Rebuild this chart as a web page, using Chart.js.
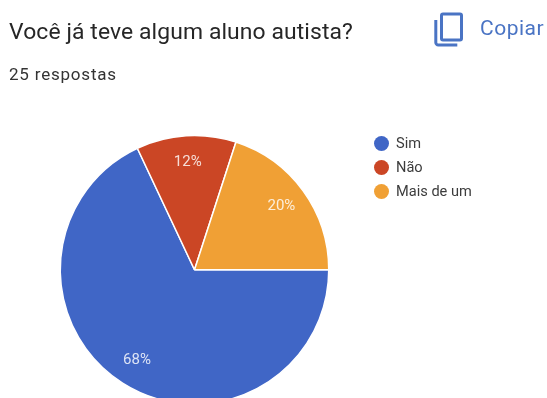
<!DOCTYPE html>
<html lang="pt">
<head>
<meta charset="utf-8">
<title>Você já teve algum aluno autista?</title>
<script src="https://cdn.jsdelivr.net/npm/chart.js@4"></script>
<style>
    html, body { margin: 0; width: 547px; height: 398px; overflow: hidden; background: #fff; font-family: Roboto, sans-serif; }
    #chartBox { position: absolute; left: 0; top: 0; width: 547px; height: 405px; }
    .title { position: absolute; left: 9px; top: 18px; font-size: 22.9px; line-height: 28px; color: #262626; white-space: nowrap; letter-spacing: 0.1px; }
    .count { position: absolute; left: 9px; top: 64px; font-size: 17px; line-height: 20px; color: #333; white-space: nowrap; letter-spacing: 0.8px; }
    .copy { position: absolute; left: 480px; top: 15px; font-size: 21px; line-height: 26px; color: #4a74c4; white-space: nowrap; letter-spacing: 0.5px; }
    .copy-icon { position: absolute; left: 434px; top: 12px; }
    #legend { position: absolute; left: 374px; top: 131px; font-size: 14.6px; color: #3c3c3c; }
    #legend div { white-space: nowrap; position: relative; padding-left: 22px; height: 24px; line-height: 24px; }
    #legend i { position: absolute; left: 0; top: 4.5px; width: 15px; height: 15px; border-radius: 50%; }
</style>
</head>
<body>
<div id="chartBox"><canvas id="pieChart" width="547" height="405"></canvas></div>
<div class="title">Você já teve algum aluno autista?</div>
<div class="count">25 respostas</div>
<svg class="copy-icon" width="30" height="35" viewBox="0 0 30 35" fill="none" stroke="#4a74c4" stroke-width="3">
    <rect x="7.5" y="2" width="20" height="26" rx="1.5"/>
    <path d="M1.8 8v22.5a2.5 2.5 0 0 0 2.5 2.5h19"/>
</svg>
<div class="copy">Copiar</div>
<div id="legend"></div>
<script>
const categories = ['Sim', 'Não', 'Mais de um'];
const responses = [68, 12, 20];
const sliceColors = ['#4066c6', '#cb4625', '#f0a035'];

// Percent labels sit inside each slice, towards the rim
const percentLabels = {
    id: 'percentLabels',
    afterDatasetsDraw(chart) {
        const ctx = chart.ctx;
        ctx.save();
        ctx.font = '15px Roboto, sans-serif';
        ctx.fillStyle = 'rgba(255,255,255,0.82)';
        ctx.textAlign = 'center';
        ctx.textBaseline = 'middle';
        chart.getDatasetMeta(0).data.forEach((arc, i) => {
            const mid = (arc.startAngle + arc.endAngle) / 2;
            const dist = arc.outerRadius * 0.8;
            ctx.fillText(responses[i] + '%', arc.x + Math.cos(mid) * dist, arc.y + Math.sin(mid) * dist);
        });
        ctx.restore();
    }
};

new Chart(document.getElementById('pieChart'), {
    type: 'pie',
    data: {
        labels: categories,
        datasets: [{
            data: responses,
            backgroundColor: sliceColors,
            borderColor: '#fff',
            borderWidth: 1.5
        }]
    },
    options: {
        responsive: false,
        animation: false,
        rotation: 90,
        layout: { padding: { left: 59.5, right: 217.5, top: 134.5, bottom: 0 } },
        plugins: { legend: { display: false }, tooltip: { enabled: false } }
    },
    plugins: [percentLabels]
});

// Legend entries
const legend = document.getElementById('legend');
categories.forEach((name, i) => {
    const row = document.createElement('div');
    const dot = document.createElement('i');
    dot.style.background = sliceColors[i];
    row.appendChild(dot);
    row.appendChild(document.createTextNode(name));
    legend.appendChild(row);
});
</script>
</body>
</html>
